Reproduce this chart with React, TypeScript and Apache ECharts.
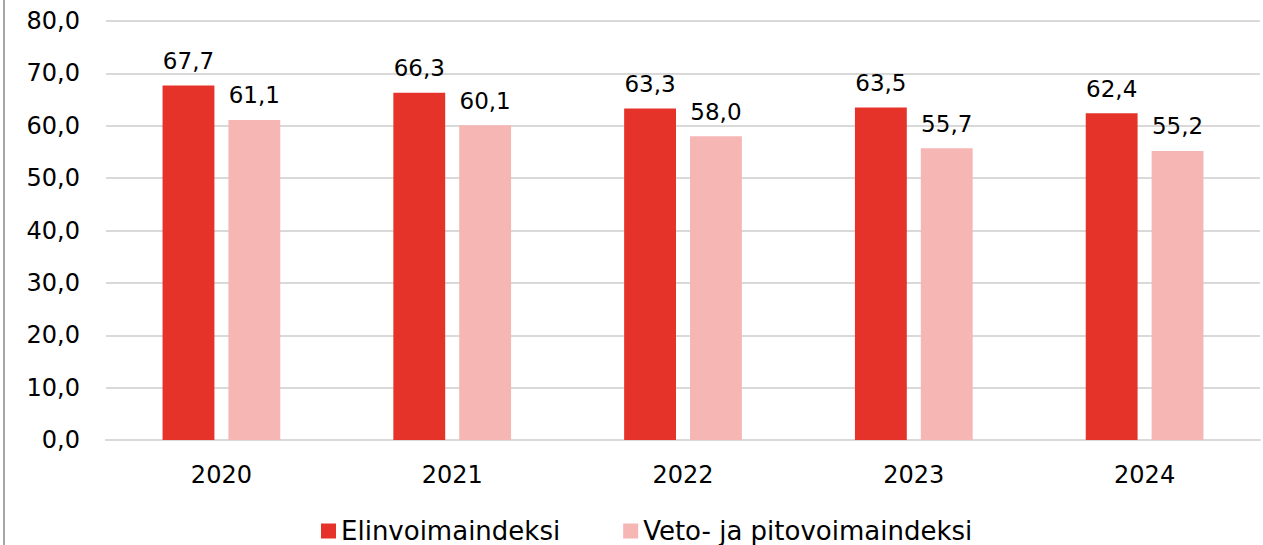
import React, { useEffect, useRef } from "react";
import * as echarts from "echarts";

const categories = ["2020", "2021", "2022", "2023", "2024"];
const elinvoima = [67.7, 66.3, 63.3, 63.5, 62.4];
const vetoPito = [61.1, 60.1, 58.0, 55.7, 55.2];
const seriesNames = ["Elinvoimaindeksi", "Veto- ja pitovoimaindeksi"];
const colors = ["#E5332A", "#F5B6B4"];

const fmt = (v: number) => v.toFixed(1).replace(".", ",");
const FONT = "DejaVu Sans";

export default function App() {
  const ref = useRef<HTMLDivElement>(null);
  useEffect(() => {
    const chart = echarts.init(ref.current!, null, { renderer: "svg" });
    const label = {
      show: true,
      position: "top" as const,
      distance: 13,
      color: "#000",
      fontSize: 23,
      fontFamily: FONT,
      formatter: (p: any) => fmt(p.value),
    };
    chart.setOption({
      animation: false,
      backgroundColor: "#fff",
      textStyle: { fontFamily: FONT },
      graphic: [
        {
          type: "line",
          shape: { x1: 4, y1: 0, x2: 4, y2: 545 },
          style: { stroke: "#a6a6a6", lineWidth: 2 },
        },
      ],
      legend: {
        data: seriesNames,
        top: 513,
        left: 316,
        itemWidth: 15,
        itemHeight: 15,
        itemGap: 63,
        icon: "rect",
        textStyle: { fontSize: 26, color: "#000", fontFamily: FONT },
      },
      grid: { left: 106, right: 3, top: 21, bottom: 105, containLabel: false },
      xAxis: {
        type: "category",
        data: categories,
        axisLine: { show: true, lineStyle: { color: "#d9d9d9", width: 2 } },
        axisTick: { show: false },
        axisLabel: { fontSize: 24, color: "#000", margin: 23, fontFamily: FONT },
      },
      yAxis: {
        type: "value",
        min: 0,
        max: 80,
        interval: 10,
        axisLine: { show: false },
        axisTick: { show: false },
        splitLine: { lineStyle: { color: "#d9d9d9", width: 2 } },
        axisLabel: {
          fontSize: 24,
          color: "#000",
          margin: 26,
          fontFamily: FONT,
          formatter: (v: number) => fmt(v),
        },
      },
      series: [
        {
          name: seriesNames[0],
          type: "bar",
          data: elinvoima,
          itemStyle: { color: colors[0] },
          barGap: "27%",
          barCategoryGap: "49%",
          label,
        },
        {
          name: seriesNames[1],
          type: "bar",
          data: vetoPito,
          itemStyle: { color: colors[1] },
          barGap: "27%",
          barCategoryGap: "49%",
          label,
        },
      ],
    });
    return () => chart.dispose();
  }, []);
  return (
    <div
      ref={ref}
      style={{ position: "absolute", left: 0, top: 0, width: 1263, height: 545 }}
    />
  );
}
